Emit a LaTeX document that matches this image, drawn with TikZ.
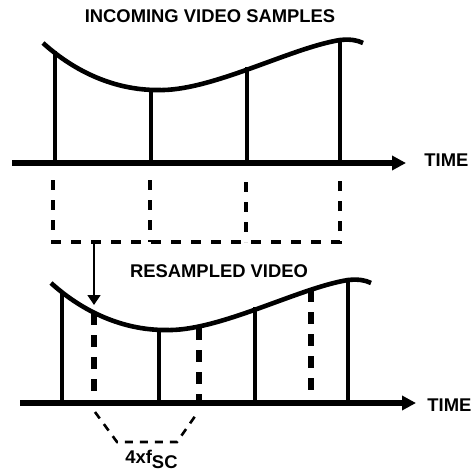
\documentclass[tikz,border=0pt]{standalone}
\usepackage{fontspec}
\setmainfont{Liberation Sans}
\usetikzlibrary{arrows.meta}
\begin{document}
\begin{tikzpicture}[x=0.5pt,y=-0.5pt,
  lbl/.style={font=\fontsize{9.2}{10}\selectfont\bfseries, inner sep=0pt},
  curve/.style={line width=2.3pt},
  stem/.style={line width=2.4pt},
  dstem/.style={line width=2.8pt, dash pattern=on 6pt off 5pt},
  axis/.style={line width=2.8pt, -{Triangle[length=7pt,width=7pt]}},
  guide/.style={line width=1.6pt, dash pattern=on 5pt off 5pt},
  bracket/.style={line width=1.3pt, dash pattern=on 4pt off 3.5pt},
  pointer/.style={line width=0.7pt, -{Triangle[length=5pt,width=6.5pt]}}]
\useasboundingbox (0,0) rectangle (472,472);
\def\wave{(43,43) .. controls (75,72) and (115,90) .. (157,90) .. controls (210,92) and (290,48) .. (340,40) .. controls (350,39) and (357,40) .. (363,43)}

% ---------- top: incoming samples ----------
\node[lbl] (title) at (210,16) {INCOMING VIDEO SAMPLES};
\draw[curve] \wave;
\coordinate (a1) at (55,163);  \coordinate (t1) at (55,51);
\coordinate (a2) at (151,163); \coordinate (t2) at (151,89);
\coordinate (a3) at (247,163); \coordinate (t3) at (247,67);
\coordinate (a4) at (340,163); \coordinate (t4) at (340,39);
\foreach \i in {1,...,4} \draw[stem] (a\i) -- (t\i);
\coordinate (ax0) at (12,163); \coordinate (ax1) at (406,163);
\draw[axis] (ax0) -- (ax1);
\node[lbl, anchor=west] (time1) at (424,160) {TIME};

% guides
\coordinate (g1) at (53,180); \coordinate (h1) at (53,242);
\coordinate (g2) at (150,180); \coordinate (h2) at (150,242);
\coordinate (g3) at (246,182); \coordinate (h3) at (246,242);
\coordinate (g4) at (340,180); \coordinate (h4) at (340,242);
\draw[guide] (g1) -- (h1) -- (h4) -- (g4);
\draw[guide] (g2) -- (h2);
\draw[guide] (g3) -- (h3);
\coordinate (p0) at (94,242); \coordinate (p1) at (94,305);
\draw[pointer] (p0) -- (p1);

% ---------- bottom: resampled ----------
\node[lbl] (title2) at (219,271) {RESAMPLED VIDEO};
\begin{scope}[shift={(8,240)}]
\draw[curve] \wave;
\coordinate (b1) at (54,163);  \coordinate (u1) at (54,51);
\coordinate (b2) at (151,163); \coordinate (u2) at (151,89);
\coordinate (b3) at (247,163); \coordinate (u3) at (247,67);
\coordinate (b4) at (340,163); \coordinate (u4) at (340,39);
\coordinate (d1) at (86,163);  \coordinate (v1) at (86,73);
\coordinate (d2) at (191,163); \coordinate (v2) at (191,88);
\coordinate (d3) at (303,163); \coordinate (v3) at (303,50);
\end{scope}
\foreach \i in {1,...,4} \draw[stem] (b\i) -- (u\i);
\foreach \i in {1,...,3} \draw[dstem] (v\i) -- (d\i);
\coordinate (bx0) at (20,403); \coordinate (bx1) at (416,403);
\draw[axis] (bx0) -- (bx1);
\node[lbl, anchor=west] (time2) at (427,405) {TIME};

% bracket
\coordinate (k1) at (95,412); \coordinate (k2) at (117,442);
\coordinate (k3) at (177,442); \coordinate (k4) at (198,412);
\draw[bracket] (k1) -- (k2) -- (k3) -- (k4);
\node[lbl, anchor=base west] (fsc) at (125,463) {4xf\raisebox{-0.3em}{SC}};
\end{tikzpicture}
\end{document}
